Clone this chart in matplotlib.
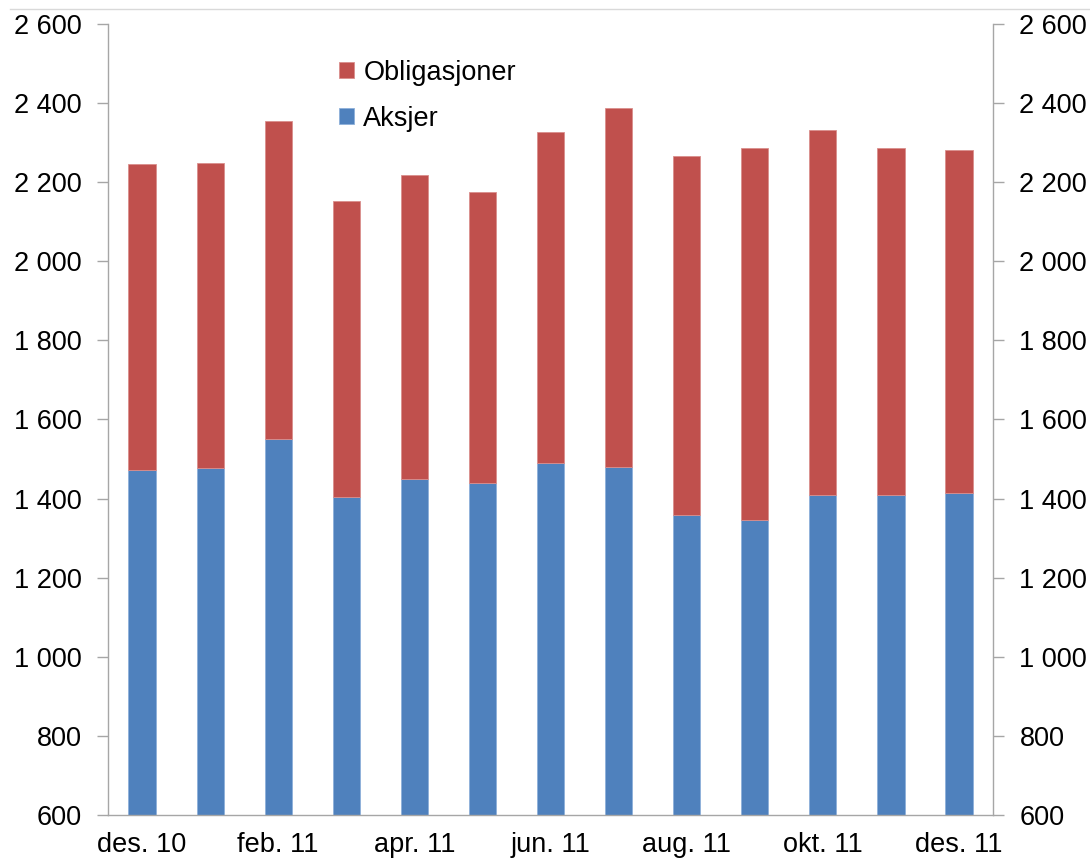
import matplotlib
matplotlib.use("Agg")
import matplotlib.pyplot as plt
import numpy as np
from matplotlib.ticker import FuncFormatter, FixedLocator
from matplotlib.lines import Line2D

months = ["des. 10", "jan. 11", "feb. 11", "mar. 11", "apr. 11", "mai. 11", "jun. 11",
          "jul. 11", "aug. 11", "sep. 11", "okt. 11", "nov. 11", "des. 11"]
aksjer = [1473, 1478, 1550, 1403, 1450, 1439, 1490, 1481, 1359, 1345, 1410, 1408, 1413]
totals = [2246, 2249, 2354, 2153, 2217, 2176, 2327, 2387, 2267, 2287, 2333, 2287, 2282]
obligasjoner = [t - a for t, a in zip(totals, aksjer)]
yticks = [600, 800, 1000, 1200, 1400, 1600, 1800, 2000, 2200, 2400, 2600]

plt.rcParams['font.family'] = ['Liberation Sans', 'DejaVu Sans']
FS = 19.5
red = "#C0504D"
blue = "#4F81BD"
grey = "#A6A6A6"

fig = plt.figure(figsize=(10.9, 8.61), dpi=100)
ax = fig.add_axes([108/1090, (861-815)/861, (993-108)/1090, (815-24)/861])

x = np.arange(len(months))
ax.bar(x, aksjer, width=0.4, bottom=0, color=blue, edgecolor="#8EB0DA", linewidth=0.6, label="Aksjer", zorder=2)
ax.bar(x, obligasjoner, width=0.4, bottom=aksjer, color=red, edgecolor="#DA8E8C", linewidth=0.6, label="Obligasjoner", zorder=2)

ax.set_xlim(-0.5, len(months) - 0.5)
ax.set_ylim(600, 2600)

fmt = FuncFormatter(lambda v, p: f"{int(v):,}".replace(",", " "))
ax.yaxis.set_major_locator(FixedLocator(yticks))
ax.yaxis.set_major_formatter(fmt)
ax.tick_params(axis='y', direction='out', length=8, width=1, color=grey, labelsize=FS, pad=11,
               left=True, right=True, labelleft=True, labelright=True)
ax.set_xticks(x[::2])
ax.set_xticklabels(months[::2])
ax.tick_params(axis='x', length=0, labelsize=FS, pad=12)

for s in ['left', 'right', 'bottom']:
    ax.spines[s].set_color(grey)
    ax.spines[s].set_linewidth(1)
ax.spines['top'].set_visible(False)

handles, labels = ax.get_legend_handles_labels()
leg = ax.legend(handles[::-1], labels[::-1], loc='upper left', bbox_to_anchor=(0.261, 0.955),
                frameon=False, fontsize=FS, handlelength=0.55, handleheight=0.55,
                handletextpad=0.35, labelspacing=0.75, borderpad=0, borderaxespad=0)

fig.add_artist(Line2D([10/1090, 1.0], [1 - 9/861, 1 - 9/861], color="#D9D9D9", linewidth=1))

fig.savefig("out.png", dpi=100)
